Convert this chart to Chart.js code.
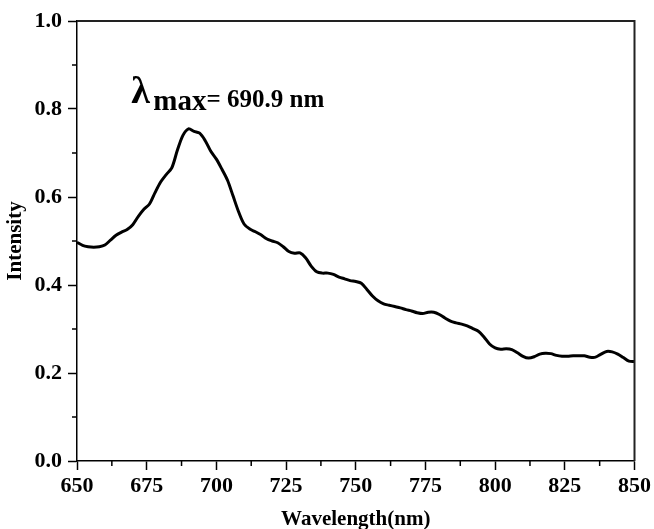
<!DOCTYPE html>
<html>
<head>
<meta charset="utf-8">
<script src="https://cdn.jsdelivr.net/npm/chart.js@4"></script>
<style>
  html, body { margin: 0; padding: 0; background: #fff; overflow: hidden; }
  #wrap { width: 654px; height: 529px; }
</style>
</head>
<body>
<div id="wrap"><canvas id="spectrum" width="654" height="529"></canvas></div>
<script>
// emission spectrum
var wavelength = [650, 652, 654, 656, 658, 660, 662, 664, 666, 668, 670, 672, 674, 676, 678, 680,
  682, 684, 686, 688, 690, 692, 694, 696, 698, 700, 702, 704, 706, 708, 710, 712, 714, 716, 718, 720,
  722, 724, 726, 728, 730, 732, 734, 736, 738, 740, 742, 744, 746, 748, 750, 752, 754, 756, 758, 760,
  762, 764, 766, 768, 770, 772, 774, 776, 778, 780, 782, 784, 786, 788, 790, 792, 794, 796, 798, 800,
  802, 804, 806, 808, 810, 812, 814, 816, 818, 820, 822, 824, 826, 828, 830, 832, 834, 836, 838, 840,
  842, 844, 846, 848, 850];
var intensity = [0.497, 0.490, 0.487, 0.486, 0.487, 0.491, 0.502, 0.513, 0.520, 0.526, 0.537, 0.556,
  0.572, 0.584, 0.610, 0.634, 0.651, 0.666, 0.706, 0.740, 0.755, 0.749, 0.745, 0.728, 0.704, 0.686,
  0.663, 0.638, 0.602, 0.566, 0.538, 0.527, 0.521, 0.514, 0.505, 0.500, 0.496, 0.487, 0.476, 0.472,
  0.473, 0.462, 0.443, 0.430, 0.427, 0.427, 0.424, 0.418, 0.414, 0.410, 0.408, 0.404, 0.390, 0.375,
  0.364, 0.357, 0.354, 0.351, 0.348, 0.344, 0.341, 0.337, 0.335, 0.338, 0.338, 0.333, 0.325, 0.318,
  0.314, 0.311, 0.307, 0.301, 0.295, 0.282, 0.266, 0.257, 0.254, 0.255, 0.253, 0.246, 0.238, 0.234,
  0.237, 0.243, 0.245, 0.244, 0.240, 0.238, 0.238, 0.239, 0.239, 0.239, 0.236, 0.236, 0.243, 0.249,
  0.248, 0.243, 0.235, 0.227, 0.226];

var xTicks = [650, 675, 700, 725, 750, 775, 800, 825, 850];
var xMinor = [662.5, 687.5, 712.5, 737.5, 762.5, 787.5, 812.5, 837.5];
var yTicks = [0, 0.2, 0.4, 0.6, 0.8, 1.0];
var yMinor = [0.1, 0.3, 0.5, 0.7, 0.9];

var peakLabel = { x: 669.5, y: 0.8136, text: '690.9' };

var serif = 'Liberation Serif';

var frameAndMinor = {
  id: 'frameAndMinor',
  afterDraw: function(chart) {
    var ctx = chart.ctx;
    var area = chart.chartArea;
    var xs = chart.scales.x, ys = chart.scales.y;
    ctx.save();
    ctx.strokeStyle = '#000';
    ctx.lineWidth = 1.5;
    ctx.beginPath();
    xMinor.forEach(function(v) {
      var px = xs.getPixelForValue(v);
      ctx.moveTo(px, area.bottom);
      ctx.lineTo(px, area.bottom + 5);
    });
    yMinor.forEach(function(v) {
      var py = ys.getPixelForValue(v);
      ctx.moveTo(area.left, py);
      ctx.lineTo(area.left - 5, py);
    });
    ctx.stroke();
    // top and right edge of the box
    ctx.beginPath();
    ctx.moveTo(area.left, area.top);
    ctx.lineTo(area.right, area.top);
    ctx.lineTo(area.right, area.bottom);
    ctx.lineWidth = 2;
    ctx.strokeStyle = '#222';
    ctx.stroke();
    ctx.restore();
  }
};

var peakNote = {
  id: 'peakNote',
  afterDatasetsDraw: function(chart) {
    var ctx = chart.ctx;
    var px = chart.scales.x.getPixelForValue(peakLabel.x);
    var py = chart.scales.y.getPixelForValue(peakLabel.y);
    ctx.save();
    ctx.fillStyle = '#000';
    ctx.textBaseline = 'alphabetic';
    ctx.textAlign = 'left';
    ctx.font = 'bold 38px "' + serif + '"';
    ctx.fillText('\u03bb', px, py);
    px += 22;
    ctx.font = 'bold 29px "' + serif + '"';
    ctx.fillText('max', px, py + 7);
    px += ctx.measureText('max').width;
    ctx.font = 'bold 25px "' + serif + '"';
    ctx.fillText('= ' + peakLabel.text + ' nm', px, py + 4);
    ctx.restore();
  }
};

var ctx = document.getElementById('spectrum').getContext('2d');
var points = wavelength.map(function(w, i) { return { x: w, y: intensity[i] }; });

new Chart(ctx, {
  type: 'line',
  data: {
    datasets: [
      {
        label: 'Intensity',
        data: points,
        borderColor: '#000',
        borderWidth: 3,
        pointRadius: 0,
        tension: 0.3,
        fill: false
      }
    ]
  },
  options: {
    responsive: false,
    animation: false,
    layout: { padding: { top: 21, right: 17, left: 0, bottom: 0 } },
    plugins: {
      legend: { display: false },
      tooltip: { enabled: false }
    },
    scales: {
      x: {
        type: 'linear',
        min: 650,
        max: 850,
        afterBuildTicks: function(scale) {
          scale.ticks = xTicks.map(function(v) { return { value: v }; });
        },
        afterFit: function(scale) { scale.height = 68; },
        border: { color: '#000', width: 1.5 },
        grid: { drawOnChartArea: false, tickLength: 9, tickWidth: 1.5, tickColor: '#000' },
        ticks: {
          color: '#000',
          padding: 3,
          maxRotation: 0,
          font: { family: serif, size: 22, weight: 'bold' },
          callback: function(v) { return String(v); }
        },
        title: {
          display: true,
          text: 'Wavelength(nm)',
          color: '#000',
          padding: { top: 0, bottom: -3 },
          font: { family: serif, size: 21, weight: 'bold', lineHeight: 1.2 }
        }
      },
      y: {
        min: 0,
        max: 1,
        afterBuildTicks: function(scale) {
          scale.ticks = yTicks.map(function(v) { return { value: v }; });
        },
        afterFit: function(scale) { scale.width = 77; },
        border: { color: '#000', width: 1.5 },
        grid: { drawOnChartArea: false, tickLength: 9, tickWidth: 1.5, tickColor: '#000' },
        ticks: {
          color: '#000',
          padding: 6,
          font: { family: serif, size: 22, weight: 'bold' },
          callback: function(v) { return Number(v).toFixed(1); }
        },
        title: {
          display: true,
          text: 'Intensity',
          color: '#000',
          padding: { top: 3, bottom: 0 },
          font: { family: serif, size: 21, weight: 'bold', lineHeight: 1.2 }
        }
      }
    }
  },
  plugins: [frameAndMinor, peakNote]
});
</script>
</body>
</html>
